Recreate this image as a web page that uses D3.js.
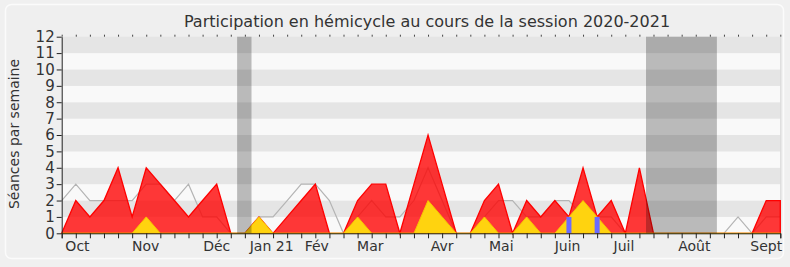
<!DOCTYPE html>
<html>
<head>
<meta charset="utf-8">
<script src="https://cdn.jsdelivr.net/npm/d3@7"></script>
<style>
  body { margin: 0; background: #f0f0f0; }
  svg { display: block; font-family: "DejaVu Sans", sans-serif; }
</style>
</head>
<body>
<div id="chart"></div>
<script>
// DATA : one value per week, session 2020-2021 (52 weeks)
var presence = [0,2,1,2,4,1,4,3,2,1,2,3,0,0,1,0,1,2,3,0,0,2,3,3,0,3,6,3,0,0,2,3,0,2,1,2,1,4,1,2,0,4,0,0,0,0,0,0,0,0,2,2];
var interventions = [0,0,0,0,0,0,1,0,0,0,0,0,0,0,1,0,0,0,0,0,0,1,0,0,0,0,2,1,0,0,1,0,0,1,0,0,1,2,1,0,0,0,0,0,0,0,0,0,0,0,0,0];
var mediane = [2,3,2,2,2,2,3,3,2,3,1,1,0,0,1,1,2,3,3,2,0,1,2,1,1,2,4,2,0,0,1,2,2,1,1,2,2,1,1,1,0,0,0,0,0,0,0,0,1,0,1,1];
var questions = [0,0,0,0,0,0,0,0,0,0,0,0,0,0,0,0,0,0,0,0,0,0,0,0,0,0,0,0,0,0,0,0,0,0,0,0,1,0,1,0,0,0,0,0,0,0,0,0,0,0,0,0];
// vacances (en semaines)
var vacances = [[12.45, 13.47], [41.47, 46.5]];
// mois
var mois = ["Oct","Nov","Déc","Jan 21","Fév","Mar","Avr","Mai","Juin","Juil","Août","Sept"];
var moisPos = [1.12, 5.96, 11.0, 14.9, 18.1, 21.9, 27.0, 31.2, 35.9, 39.9, 44.9, 50.0];
var yTicks = d3.range(0, 13);

var W = 790, H = 267;
var svg = d3.select("#chart").append("svg").attr("width", W).attr("height", H);

// panel
svg.append("rect").attr("x", 5.5).attr("y", 4.5).attr("width", 778).attr("height", 254)
  .attr("rx", 6).attr("fill", "#efefef").attr("stroke", "#fbfbfb").attr("stroke-width", 1.5);

var x = d3.scaleLinear().domain([0, presence.length - 1]).range([61.7, 780.3]);
var y = d3.scaleLinear().domain([0, 12]).range([233.3, 36.7]);

// stripes
var g = svg.append("g");
yTicks.slice(0, 12).forEach(function(v){
  g.append("rect")
    .attr("x", x(0)).attr("width", x(51) - x(0))
    .attr("y", y(v + 1)).attr("height", y(v) - y(v + 1))
    .attr("fill", v % 2 == 1 ? "#e5e5e5" : "#f9f9f9");
});
g.append("line").attr("x1", x(51) + 0.5).attr("x2", x(51) + 0.5)
  .attr("y1", y(12)).attr("y2", y(0)).attr("stroke", "#d8d8d8");

// median line
g.append("path").datum(mediane)
  .attr("fill", "none").attr("stroke", "#b4b4b4").attr("stroke-width", 1.2)
  .attr("d", d3.line().x(function(d, i){ return x(i); }).y(function(d){ return y(d); }));

// presence
var area = d3.area().x(function(d, i){ return x(i); }).y0(y(0)).y1(function(d){ return y(d); });
g.append("path").datum(presence)
  .attr("fill", "rgba(255,0,0,0.78)").attr("stroke", "#ff0000").attr("stroke-width", 1.3)
  .attr("d", area);

// interventions
g.append("path").datum(interventions)
  .attr("fill", "#ffd30f").attr("stroke", "#f7c600").attr("stroke-width", 1)
  .attr("d", area);

// questions
questions.forEach(function(d, i){
  if (d > 0) {
    g.append("rect")
      .attr("x", x(i) - 2.5).attr("width", 5)
      .attr("y", y(d)).attr("height", y(0) - y(d))
      .attr("fill", "#6b6bff");
  }
});

// vacances
vacances.forEach(function(v){
  g.append("rect")
    .attr("x", x(v[0])).attr("width", x(v[1]) - x(v[0]))
    .attr("y", y(12)).attr("height", y(0) - y(12))
    .attr("fill", "rgba(0,0,0,0.25)");
});

// axes
var weeks = d3.range(0, presence.length);
var xAxis = svg.append("g").attr("transform", "translate(0," + y(0) + ")")
  .call(d3.axisBottom(x).tickValues(weeks).tickSize(5).tickFormat(""));
xAxis.select(".domain").attr("stroke", "#222");
xAxis.selectAll(".tick line").attr("stroke", "#222");

var topAxis = svg.append("g").attr("transform", "translate(0," + y(12) + ")")
  .call(d3.axisTop(x).tickValues(weeks).tickSize(2).tickSizeOuter(0).tickFormat(""));
topAxis.select(".domain").remove();
topAxis.selectAll(".tick line").attr("stroke", "#444");

var yAxis = svg.append("g").attr("transform", "translate(" + x(0) + ",0)")
  .call(d3.axisLeft(y).tickValues(yTicks).tickSize(5).tickSizeOuter(0).tickFormat(d3.format("d")));
yAxis.select(".domain").attr("stroke", "#222");
yAxis.selectAll(".tick line").attr("stroke", "#222");
yAxis.selectAll(".tick text").attr("font-size", 15).attr("fill", "#333")
  .attr("font-family", "DejaVu Sans").attr("x", -7);

svg.append("g").selectAll("text").data(mois).enter().append("text")
  .attr("x", function(d, i){ return x(moisPos[i]); })
  .attr("y", 251)
  .attr("text-anchor", "middle")
  .attr("font-size", 14).attr("fill", "#333")
  .text(function(d){ return d; });

// title & y label
svg.append("text").attr("x", 427).attr("y", 27).attr("text-anchor", "middle")
  .attr("font-size", 16).attr("fill", "#333")
  .text("Participation en hémicycle au cours de la session 2020-2021");

svg.append("text").attr("transform", "translate(19,134) rotate(-90)")
  .attr("text-anchor", "middle").attr("font-size", 14).attr("fill", "#333")
  .text("Séances par semaine");
</script>
</body>
</html>
